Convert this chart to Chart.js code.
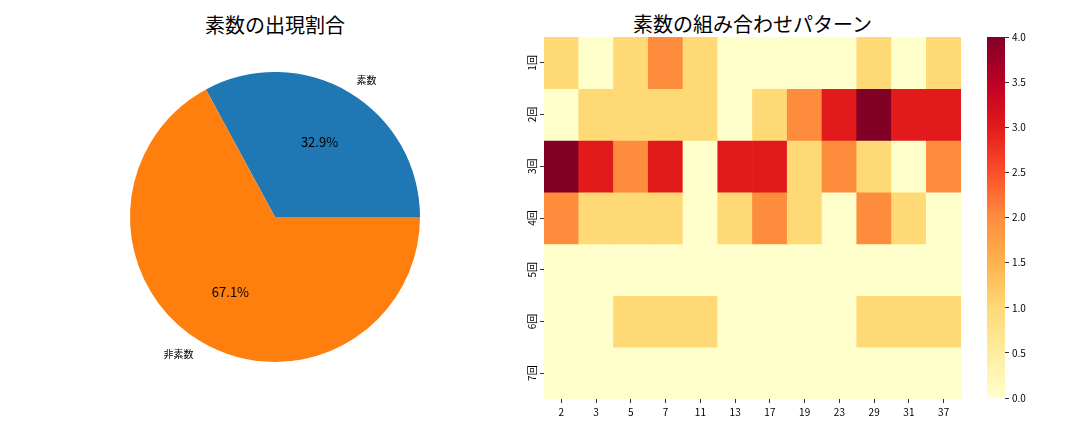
<!DOCTYPE html>
<html>
<head>
<meta charset="utf-8">
<script src="https://cdn.jsdelivr.net/npm/chart.js@4.4.1/dist/chart.umd.min.js"></script>
<style>
  body { margin: 0; background: #fff; width: 1080px; height: 432px; overflow: hidden; position: relative;
         font-family: "Noto Sans CJK JP", "Noto Sans", sans-serif; }
  canvas { position: absolute; }
  .title { position: absolute; font-size: 20px; color: #000; text-align: center; line-height: 24px; }
</style>
</head>
<body>
<div class="title" style="left:0;width:550px;top:13px;">素数の出現割合</div>
<div class="title" style="left:544px;width:417px;top:12px;">素数の組み合わせパターン</div>
<div style="position:absolute;left:0;top:0;width:540px;height:432px;"><canvas id="pieChart"></canvas></div>
<div style="position:absolute;left:500px;top:0;width:480px;height:432px;"><canvas id="heatChart"></canvas></div>
<div style="position:absolute;left:980px;top:0;width:100px;height:432px;"><canvas id="barChart"></canvas></div>
<script>
// pie data
const pieLabels = ['素数', '非素数'];
const pieValues = [32.9, 67.1];
const pieColors = ['#1f77b4', '#ff7f0e'];

// heatmap data
const primes = ['2', '3', '5', '7', '11', '13', '17', '19', '23', '29', '31', '37'];
const rowLabels = ['1回', '2回', '3回', '4回', '5回', '6回', '7回'];
const row1 = [1, 0, 1, 2, 1, 0, 0, 0, 0, 1, 0, 1];
const row2 = [0, 1, 1, 1, 1, 0, 1, 2, 3, 4, 3, 3];
const row3 = [4, 3, 2, 3, 0, 3, 3, 1, 2, 1, 0, 2];
const row4 = [2, 1, 1, 1, 0, 1, 2, 1, 0, 2, 1, 0];
const row5 = [0, 0, 0, 0, 0, 0, 0, 0, 0, 0, 0, 0];
const row6 = [0, 0, 1, 1, 1, 0, 0, 0, 0, 1, 1, 1];
const row7 = [0, 0, 0, 0, 0, 0, 0, 0, 0, 0, 0, 0];
const heatRows = [row1, row2, row3, row4, row5, row6, row7];
const vmin = 0, vmax = 4;
const cbarTicks = [0, 0.5, 1, 1.5, 2, 2.5, 3, 3.5, 4];

const FONT = '"Noto Sans CJK JP", "Noto Sans", sans-serif';
Chart.defaults.font.family = FONT;
Chart.defaults.color = '#000';
Chart.defaults.animation = false;

// YlOrRd colormap
const ylorrd = ['#ffffcc', '#ffeda0', '#fed976', '#feb24c', '#fd8d3c', '#fc4e2a', '#e31a1c', '#bd0026', '#800026'];
function hexToRgb(h) {
  return [parseInt(h.slice(1, 3), 16), parseInt(h.slice(3, 5), 16), parseInt(h.slice(5, 7), 16)];
}
function cmap(v) {
  let t = (v - vmin) / (vmax - vmin);
  t = Math.max(0, Math.min(1, t));
  const pos = t * (ylorrd.length - 1);
  const i = Math.min(Math.floor(pos), ylorrd.length - 2);
  const f = pos - i;
  const a = hexToRgb(ylorrd[i]), b = hexToRgb(ylorrd[i + 1]);
  const c = a.map((x, k) => Math.round(x + (b[k] - x) * f));
  return `rgb(${c[0]},${c[1]},${c[2]})`;
}

// labels for pie, like matplotlib autopct
const pieText = {
  id: 'pieText',
  afterDatasetsDraw(chart) {
    const ctx = chart.ctx;
    const arcs = chart.getDatasetMeta(0).data;
    ctx.save();
    ctx.fillStyle = '#000';
    ctx.textBaseline = 'middle';
    arcs.forEach((arc, i) => {
      const mid = (arc.startAngle + arc.endAngle) / 2;
      const r = arc.outerRadius;
      const lx = arc.x + Math.cos(mid) * r * 1.1;
      const ly = arc.y + Math.sin(mid) * r * 1.1;
      ctx.font = '10px ' + FONT;
      ctx.textAlign = Math.cos(mid) >= 0 ? 'left' : 'right';
      ctx.fillText(pieLabels[i], lx, ly);
      const px = arc.x + Math.cos(mid) * r * 0.6;
      const py = arc.y + Math.sin(mid) * r * 0.6;
      ctx.font = '13px ' + FONT;
      ctx.textAlign = 'center';
      ctx.fillText(pieValues[i].toFixed(1) + '%', px, py);
    });
    ctx.restore();
  }
};

new Chart(document.getElementById('pieChart'), {
  type: 'pie',
  data: {
    labels: pieLabels,
    datasets: [{ data: pieValues, backgroundColor: pieColors, borderWidth: 0 }]
  },
  options: {
    responsive: true,
    maintainAspectRatio: false,
    // matplotlib starts at 3 o'clock and goes counter-clockwise
    rotation: 90 - 360 * pieValues[0] / (pieValues[0] + pieValues[1]),
    layout: { padding: { left: 130, right: 120, top: 72, bottom: 70 } },
    plugins: { legend: { display: false }, tooltip: { enabled: false } }
  },
  plugins: [pieText]
});

// row labels rotated and centred on their ticks
const rowText = {
  id: 'rowText',
  afterDraw(chart) {
    const ctx = chart.ctx;
    const y = chart.scales.y;
    ctx.save();
    ctx.fillStyle = '#000';
    ctx.font = '10px ' + FONT;
    ctx.textAlign = 'center';
    ctx.textBaseline = 'middle';
    rowLabels.forEach((lab, i) => {
      const py = y.getPixelForValue(i + 0.5);
      ctx.save();
      ctx.translate(y.right - 12, py);
      ctx.rotate(-Math.PI / 2);
      ctx.fillText(lab, 0, 0);
      ctx.restore();
    });
    ctx.restore();
  }
};

// heatmap as floating bars, one dataset per row
const heatDatasets = heatRows.map((vals, r) => ({
  data: vals.map(() => [r, r + 1]),
  backgroundColor: vals.map(v => cmap(v)),
  borderColor: vals.map(v => cmap(v)),
  borderWidth: 0,
  borderSkipped: false,
  grouped: false,
  barPercentage: 1,
  categoryPercentage: 1
}));

new Chart(document.getElementById('heatChart'), {
  type: 'bar',
  data: { labels: primes, datasets: heatDatasets },
  options: {
    responsive: true,
    maintainAspectRatio: false,
    layout: { padding: { left: 0, right: 19, top: 37, bottom: 0 } },
    plugins: { legend: { display: false }, tooltip: { enabled: false } },
    scales: {
      x: {
        afterFit: s => { s.height = 33; },
        grid: { display: true, offset: false, drawOnChartArea: false, drawTicks: true, tickLength: 4, color: '#333' },
        border: { display: false },
        ticks: { font: { size: 10 }, padding: 3, maxRotation: 0, autoSkip: false }
      },
      y: {
        min: 0,
        max: rowLabels.length,
        reverse: true,
        afterFit: s => { s.width = 44; },
        afterBuildTicks: s => { s.ticks = rowLabels.map((_, i) => ({ value: i + 0.5 })); },
        grid: { display: true, drawOnChartArea: false, drawTicks: true, tickLength: 4, color: '#333' },
        border: { display: false },
        ticks: { display: false }
      }
    }
  },
  plugins: [rowText]
});

// colorbar
function cbarGradient(context) {
  const chart = context.chart;
  const area = chart.chartArea;
  if (!area) return ylorrd[4];
  const g = chart.ctx.createLinearGradient(0, area.bottom, 0, area.top);
  ylorrd.forEach((c, i) => g.addColorStop(i / (ylorrd.length - 1), c));
  return g;
}

new Chart(document.getElementById('barChart'), {
  type: 'bar',
  data: {
    labels: [''],
    datasets: [{
      data: [[vmin, vmax]],
      backgroundColor: cbarGradient,
      borderWidth: 0,
      borderSkipped: false,
      barPercentage: 1,
      categoryPercentage: 1
    }]
  },
  options: {
    responsive: true,
    maintainAspectRatio: false,
    layout: { padding: { left: 7, right: 35, top: 37, bottom: 34 } },
    plugins: { legend: { display: false }, tooltip: { enabled: false } },
    scales: {
      x: { display: false },
      y: {
        position: 'right',
        min: vmin,
        max: vmax,
        afterFit: s => { s.width = 40; },
        afterBuildTicks: s => { s.ticks = cbarTicks.map(v => ({ value: v })); },
        grid: { display: true, drawOnChartArea: false, drawTicks: true, tickLength: 4, color: '#333' },
        border: { display: false },
        ticks: { font: { size: 10 }, padding: 3, callback: v => v.toFixed(1) }
      }
    }
  }
});
</script>
</body>
</html>
